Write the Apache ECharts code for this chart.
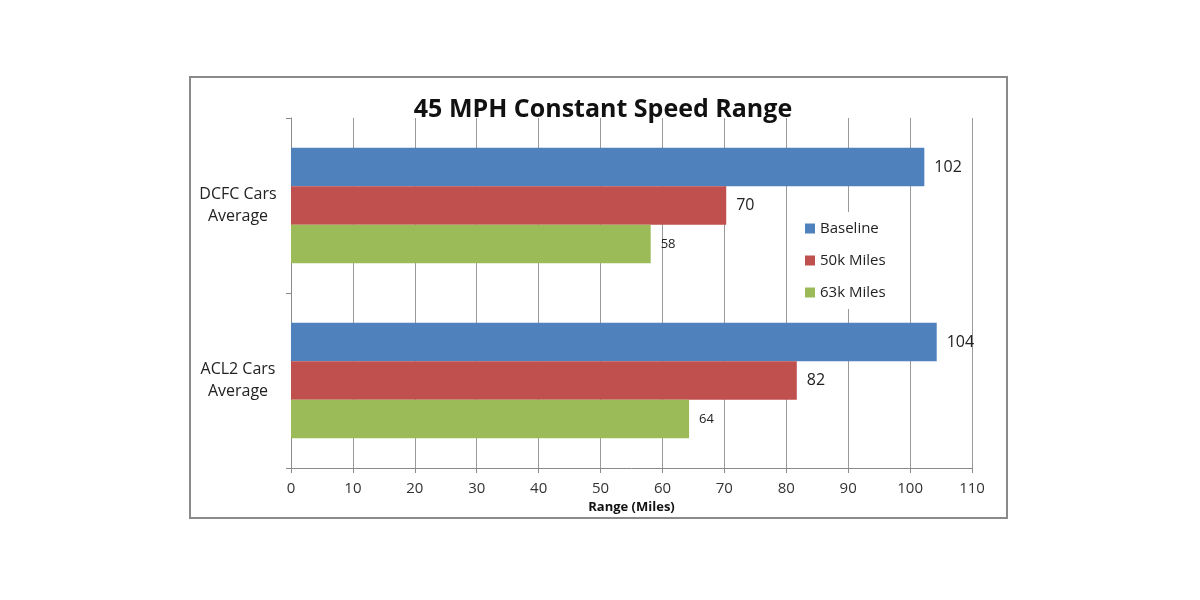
<!DOCTYPE html>
<html>
<head>
<meta charset="utf-8">
<script src="https://cdn.jsdelivr.net/npm/echarts@6/dist/echarts.min.js"></script>
<style>
html,body{margin:0;padding:0;background:#fff;}
#c{width:1200px;height:600px;}
</style>
</head>
<body>
<div id="c"></div>
<script>
const categories = ['ACL2 Cars\nAverage', 'DCFC Cars\nAverage'];
const seriesNames = ['Baseline', '50k Miles', '63k Miles'];
const baseline = [104.3, 102.3];
const miles50k = [81.7, 70.3];
const miles63k = [64.3, 58.1];
const xTicks = { min: 0, max: 110, interval: 10 };

const FONT = '"Open Sans", "Liberation Sans", sans-serif';
const chart = echarts.init(document.getElementById('c'), null, { renderer: 'canvas' });

function barSeries(name, data, color, labelSize) {
  return {
    name: name,
    type: 'bar',
    data: data,
    barGap: '0%',
    barCategoryGap: '34%',
    itemStyle: { color: color },
    label: {
      show: true,
      position: 'right',
      distance: 10,
      fontFamily: FONT,
      fontSize: labelSize,
      color: '#222',
      formatter: p => Math.round(p.value)
    }
  };
}

chart.setOption({
  backgroundColor: '#fff',
  animation: false,
  title: {
    text: '45 MPH Constant Speed Range',
    left: 598,
    textAlign: 'center',
    top: 92,
    textStyle: { fontFamily: FONT, fontWeight: 'bold', fontSize: 25, color: '#111' }
  },
  graphic: [{
    type: 'rect',
    shape: { x: 190, y: 77, width: 817, height: 441 },
    style: { fill: 'none', stroke: '#8a8a8a', lineWidth: 2 },
    z: 0
  }],
  legend: {
    data: seriesNames,
    orient: 'vertical',
    left: 799,
    top: 212,
    padding: [8, 10, 8, 6],
    backgroundColor: '#fff',
    itemWidth: 10,
    itemHeight: 10,
    itemGap: 15,
    icon: 'rect',
    textStyle: { fontFamily: FONT, fontSize: 15, color: '#222', lineHeight: 17 },
    z: 10
  },
  grid: { left: 291, right: 228, top: 118, bottom: 132, containLabel: false },
  xAxis: {
    type: 'value',
    min: xTicks.min, max: xTicks.max, interval: xTicks.interval,
    name: 'Range (Miles)',
    nameLocation: 'middle',
    nameGap: 32,
    nameTextStyle: { fontFamily: FONT, fontWeight: 'bold', fontSize: 13, color: '#111' },
    axisLine: { show: true, lineStyle: { color: '#8a8a8a', width: 1 } },
    axisTick: { show: true, length: 5, lineStyle: { color: '#8a8a8a' } },
    axisLabel: { fontFamily: FONT, fontSize: 15, color: '#333', margin: 13 },
    splitLine: { show: true, lineStyle: { color: '#999', width: 1 } }
  },
  yAxis: {
    type: 'category',
    data: categories,
    axisLine: { show: true, lineStyle: { color: '#8a8a8a', width: 1 } },
    axisTick: { show: true, length: 5, lineStyle: { color: '#8a8a8a' } },
    axisLabel: { fontFamily: FONT, fontSize: 16, color: '#222', align: 'center', margin: 53, lineHeight: 22 }
  },
  series: [
    barSeries('Baseline', baseline, '#4F81BD', 16),
    barSeries('50k Miles', miles50k, '#C0504D', 16),
    barSeries('63k Miles', miles63k, '#9BBB59', 13)
  ]
});
</script>
</body>
</html>
